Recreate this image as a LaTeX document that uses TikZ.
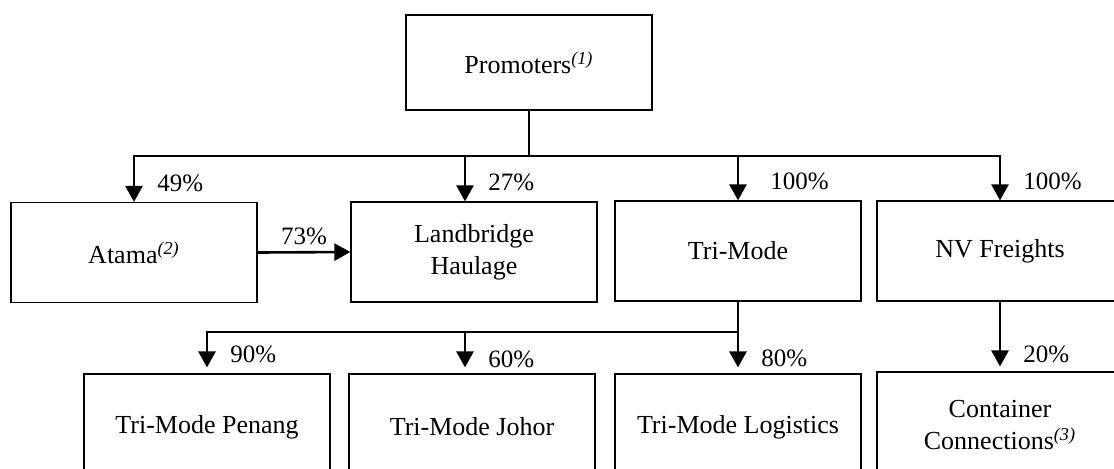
\documentclass[tikz,border=0pt]{standalone}
\usepackage{fontspec}
\setmainfont{Liberation Serif}
\usetikzlibrary{arrows.meta}
\tikzset{
  % company box
  entity/.style={draw=black, line width=0.6pt, minimum width=123pt,
                 minimum height=50pt, align=center, inner sep=2pt,
                 font=\fontsize{13}{16}\selectfont},
  % plain connector
  link/.style={line width=1.3pt, line cap=rect},
  % ownership arrow
  owns/.style={link, -{Triangle[length=8pt,width=8.5pt]}},
  % share label next to an arrow
  share/.style={font=\fontsize{12.5}{14}\selectfont, inner sep=0pt,
                anchor=west, xshift=11pt},
}
\newcommand{\fnmark}[1]{\textsuperscript{\itshape(#1)}}

\begin{document}
\begin{tikzpicture}[x=0.5pt, y=-0.5pt]
  \useasboundingbox (0,0) rectangle (1114,468);
  \fill[white] (0,0) rectangle (1114,468);
  \clip (0,0) rectangle (1114,468);
  % holding
  \node[entity, minimum height=47.5pt] (prom) at (529,62.5) {Promoters\fnmark{1}};
  % first tier
  \node[entity] (atama) at (134,252.5) {Atama\fnmark{2}};
  \node[entity] (land)  at (474,252)   {Landbridge\\Haulage};
  \node[entity] (tri)   at (738,251)   {Tri-Mode};
  \node[entity] (nv)    at (1000,251)  {NV Freights};
  % second tier (runs off the page)
  \node[entity, minimum height=53pt] (pen)  at (207,427) {Tri-Mode Penang};
  \node[entity, minimum height=53pt] (joh)  at (472,427) {Tri-Mode Johor};
  \node[entity, minimum height=53pt] (log)  at (738,427) {Tri-Mode Logistics};
  \node[entity, minimum height=53pt] (cont) at (1000,425) {Container\\Connections\fnmark{3}};

  \coordinate (topbus) at (0,156);
  \coordinate (lowbus) at (0,332);

  % promoters' holdings
  \draw[link] (prom.south) -- (prom.south |- topbus);
  \draw[link] (atama.north |- topbus) -- (nv.north |- topbus);
  \draw[owns] (atama.north |- topbus) -- node[share, pos=.59] {49\%} (atama.north);
  \draw[owns] ([xshift=-4.5pt]land.north |- topbus) -- node[share, pos=.59] {27\%}
    ([xshift=-4.5pt]land.north);
  \draw[owns] (tri.north |- topbus) -- node[share, pos=.57, xshift=4.5pt] {100\%} (tri.north);
  \draw[owns] (nv.north |- topbus) -- node[share, pos=.57] {100\%} (nv.north);
  \draw[owns] (atama.east) -- node[share, anchor=south, xshift=-11pt, yshift=3pt] {73\%}
    (land.west);

  % tri-mode subsidiaries
  \draw[link] (pen.north |- lowbus) -- (tri.south |- lowbus);
  \draw[owns, shorten >=3pt] (pen.north |- lowbus) -- node[share, pos=.55] {90\%} (pen.north);
  \draw[owns, shorten >=3pt] ([xshift=-3.5pt]joh.north |- lowbus) -- node[share, pos=.66] {60\%}
    ([xshift=-3.5pt]joh.north);
  \draw[owns, shorten >=3pt] (tri.south) -- node[share, pos=.79] {80\%} (log.north);
  \draw[owns, shorten >=2.5pt] (nv.south) -- node[share, pos=.75] {20\%} (cont.north);
\end{tikzpicture}
\end{document}
